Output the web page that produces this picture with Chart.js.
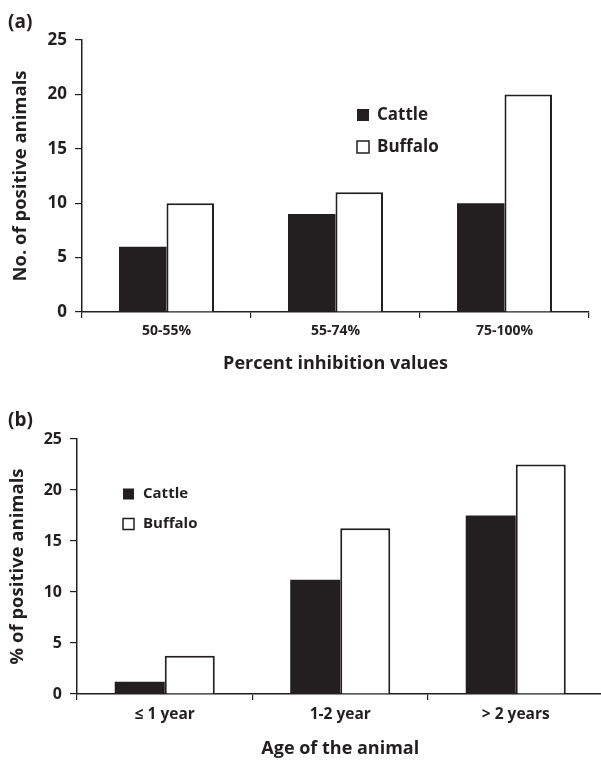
<!DOCTYPE html>
<html>
<head>
<meta charset="utf-8">
<script src="https://cdn.jsdelivr.net/npm/chart.js@4"></script>
<style>
  html, body { margin: 0; padding: 0; background: #fff; overflow: hidden; }
  .panel { position: absolute; left: 0; }
</style>
</head>
<body>
<div class="panel" style="top:0;width:601px;height:380px"><canvas id="chartA"></canvas></div>
<div class="panel" style="top:380px;width:612px;height:382px"><canvas id="chartB"></canvas></div>
<script>
// panel (a): percent inhibition
const inhibitionLabels = ['50-55%', '55-74%', '75-100%'];
const inhibitionCattle = [6, 9, 10];
const inhibitionBuffalo = [10, 11, 20];

// panel (b): age groups
const ageLabels = ['≤ 1 year', '1-2 year', '> 2 years'];
const ageCattle = [1.2, 11.2, 17.5];
const ageBuffalo = [3.75, 16.25, 22.5];

const seriesNames = ['Cattle', 'Buffalo'];

const INK = '#231f20';
const FONT = '"Open Sans"';

// panel tag "(a)"/"(b)" and the little in-plot legend
const panelExtras = {
  id: 'panelExtras',
  afterDraw(chart, args, opts) {
    const ctx = chart.ctx;
    ctx.save();
    ctx.fillStyle = INK;
    ctx.textBaseline = 'middle';
    ctx.font = `bold 19px ${FONT}`;
    ctx.fillText(opts.tag, 8, opts.tagY);

    ctx.font = `bold ${opts.legendSize}px ${FONT}`;
    chart.data.datasets.forEach((ds, i) => {
      const y = opts.legendY + i * opts.legendGap;
      const b = opts.box;
      ctx.fillStyle = ds.backgroundColor;
      ctx.fillRect(opts.legendX, y - b / 2, b, b);
      if (ds.borderWidth) {
        ctx.strokeStyle = INK;
        ctx.lineWidth = 1.5;
        ctx.strokeRect(opts.legendX, y - b / 2, b, b);
      }
      ctx.fillStyle = INK;
      ctx.fillText(ds.label, opts.legendX + b + opts.textGap, y);
    });
    ctx.restore();
  }
};

function makeChart(id, cfg) {
  return new Chart(document.getElementById(id), {
    type: 'bar',
    data: {
      labels: cfg.labels,
      datasets: [
        { label: seriesNames[0], data: cfg.cattle, backgroundColor: INK, borderWidth: 0 },
        { label: seriesNames[1], data: cfg.buffalo, backgroundColor: '#ffffff', borderColor: INK, borderWidth: 2 }
      ]
    },
    options: {
      responsive: true,
      maintainAspectRatio: false,
      animation: false,
      datasets: { bar: { categoryPercentage: cfg.catPct, barPercentage: 1.0 } },
      layout: { padding: cfg.padding },
      plugins: {
        legend: { display: false },
        tooltip: { enabled: false },
        panelExtras: cfg.extras
      },
      scales: {
        x: {
          ticks: { color: INK, font: { family: FONT, size: cfg.xTickSize, weight: 'bold' }, padding: 5 },
          grid: { drawOnChartArea: false, tickLength: 6, color: INK, lineWidth: 1.2, offset: true },
          border: { color: INK, width: 1.5 },
          title: {
            display: true, text: cfg.xTitle, color: INK,
            font: { family: FONT, size: 18, weight: 'bold' },
            padding: { top: 0, bottom: cfg.xTitlePad }
          },
          afterFit(scale) { scale.height = 68; }
        },
        y: {
          min: 0, max: 25,
          ticks: { stepSize: 5, color: INK, font: { family: FONT, size: cfg.yTickSize, weight: 'bold' }, padding: 8 },
          grid: { drawOnChartArea: false, tickLength: 7, color: INK, lineWidth: 1.2 },
          border: { color: INK, width: 1.5 },
          title: {
            display: true, text: cfg.yTitle, color: INK,
            font: { family: FONT, size: 18.5, weight: 'bold' },
            padding: { top: cfg.yTitlePad, bottom: 0 }
          },
          afterFit(scale) { scale.width = cfg.yWidth; }
        }
      }
    },
    plugins: [panelExtras]
  });
}

makeChart('chartA', {
  labels: inhibitionLabels,
  cattle: inhibitionCattle,
  buffalo: inhibitionBuffalo,
  catPct: 0.562,
  padding: { top: 40, right: 12, bottom: 0, left: 0 },
  xTickSize: 14, yTickSize: 17,
  xTitle: 'Percent inhibition values', xTitlePad: 5,
  yTitle: 'No. of positive animals', yTitlePad: 10,
  yWidth: 82,
  extras: { tag: '(a)', tagY: 23, legendX: 357, legendY: 115, legendGap: 32, box: 12, textGap: 8, legendSize: 17 }
});

makeChart('chartB', {
  labels: ageLabels,
  cattle: ageCattle,
  buffalo: ageBuffalo,
  catPct: 0.57,
  padding: { top: 59, right: 8.5, bottom: 0, left: 0 },
  xTickSize: 15.5, yTickSize: 16,
  xTitle: 'Age of the animal', xTitlePad: 2,
  yTitle: '% of positive animals', yTitlePad: 7,
  yWidth: 77,
  extras: { tag: '(b)', tagY: 41, legendX: 123, legendY: 114, legendGap: 30, box: 11, textGap: 9, legendSize: 15 }
});
</script>
</body>
</html>
